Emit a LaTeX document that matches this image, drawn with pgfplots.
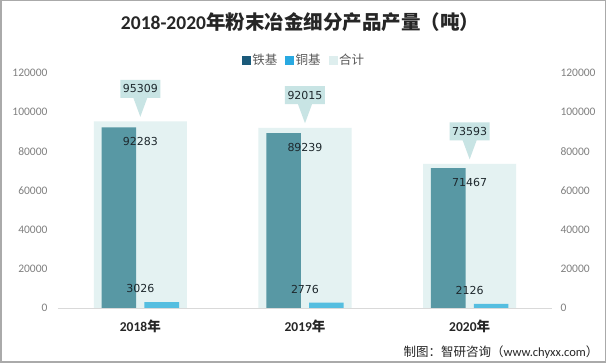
\documentclass[border=0pt]{standalone}
\usepackage{fontspec}
\setmainfont{Carlito}
\newfontfamily\cjk{Noto Sans CJK SC}
\newfontfamily\dv{DejaVu Sans}
\usepackage{pgfplots}
\pgfplotsset{compat=1.18}
\usetikzlibrary{shapes.callouts}
\definecolor{ironbar}{RGB}{88,152,164}
\definecolor{copperbar}{RGB}{85,190,224}
\definecolor{totfill}{RGB}{228,242,242}
\definecolor{callfill}{RGB}{200,228,228}
\definecolor{legiron}{RGB}{27,90,122}
\definecolor{legcopper}{RGB}{41,169,225}
\definecolor{legtot}{RGB}{222,238,238}
\definecolor{tickgray}{RGB}{128,128,128}
\definecolor{axisgray}{RGB}{217,217,217}
\definecolor{bordergray}{RGB}{170,170,170}
\definecolor{labcol}{RGB}{30,40,45}
\definecolor{titlecol}{RGB}{38,38,38}
\begin{document}
\begin{tikzpicture}[x=1pt,y=1pt]
\useasboundingbox (0,0) rectangle (606,363);
\fill[white] (0,0) rectangle (606,363);
\draw[line width=1.5pt, color=bordergray] (0.75,0.75) rectangle (605.25,362.25);
\node[font=\bfseries\fontsize{19.5}{20}\selectfont, text=titlecol] at (300,341) {2018-2020{\cjk\bfseries 年粉末冶金细分产品产量（吨）}};
\node[anchor=east, font=\fontsize{12.5}{13}\selectfont, text=titlecol] at (602,11) {{\cjk 制图：智研咨询（}www.chyxx.com{\cjk ）}};

\begin{axis}[
  at={(58pt,55pt)}, anchor=south west, scale only axis,
  width=494pt, height=235pt,
  xmin=-0.5, xmax=2.5, ymin=0, ymax=120000,
  xtick={0,1,2},
  xticklabels={{2018{\cjk\bfseries 年}},{2019{\cjk\bfseries 年}},{2020{\cjk\bfseries 年}}},
  ytick={0,20000,40000,60000,80000,100000,120000},
  axis x line*=bottom, axis y line*=left,
  y axis line style={draw=none},
  x axis line style={-, draw=axisgray, line width=0.8pt},
  tick style={draw=none}, major tick length=0pt,
  scaled y ticks=false,
  /pgf/number format/fixed,
  /pgf/number format/precision=0,
  /pgf/number format/1000 sep={},
  /pgf/number format/assume math mode=true,
  yticklabel style={font=\fontsize{11.5}{12}\selectfont, text=tickgray, xshift=-7pt},
  xticklabel style={font=\bfseries\fontsize{13.5}{14}\selectfont, text=titlecol, yshift=-8pt},
  clip=false,
  legend style={at={(0.498,1.055)}, anchor=center, draw=none, fill=none,
    legend columns=3, font=\cjk\fontsize{12.5}{13}\selectfont, text=black!65,
    /tikz/every even column/.append style={column sep=6pt}},
]
\addlegendimage{legend image code/.code={\fill[legiron] (0pt,-4pt) rectangle (8pt,4pt);}}
\addlegendimage{legend image code/.code={\fill[legcopper] (0pt,-4pt) rectangle (8pt,4pt);}}
\addlegendimage{legend image code/.code={\fill[legtot] (0pt,-4pt) rectangle (8pt,4pt);}}
\addplot[ybar, bar width=0.565, bar shift=0, fill=totfill, draw=none, forget plot,
  nodes near coords,
  nodes near coords style={rectangle callout, fill=callfill, callout relative pointer={(0pt,-19pt)},
    callout pointer width=14pt, minimum width=40pt, minimum height=18pt, inner sep=1pt,
    anchor=pointer, yshift=4pt, font=\dv\fontsize{11}{11}\selectfont, text=labcol}]
  coordinates {(0,95309) (1,92015) (2,73593)};
\addplot[ybar, bar width=0.21, bar shift=-0.13, fill=ironbar, draw=none, forget plot,
  nodes near coords,
  nodes near coords style={anchor=north, inner sep=2pt, yshift=-8pt, font=\dv\fontsize{11}{11}\selectfont, text=labcol}]
  coordinates {(0,92283) (1,89239) (2,71467)};
\addplot[ybar, bar width=0.21, bar shift=0.13, fill=copperbar, draw=none, forget plot,
  nodes near coords,
  nodes near coords style={anchor=south, inner sep=2pt, yshift=7pt, font=\dv\fontsize{11}{11}\selectfont, text=labcol}]
  coordinates {(0,3026) (1,2776) (2,2126)};
\legend{铁基,铜基,合计}
\end{axis}

\begin{axis}[
  at={(58pt,55pt)}, anchor=south west, scale only axis,
  width=494pt, height=235pt,
  xmin=-0.5, xmax=2.5, ymin=0, ymax=120000,
  axis x line=none, axis y line*=right,
  y axis line style={draw=none},
  ytick={0,20000,40000,60000,80000,100000,120000},
  tick style={draw=none}, major tick length=0pt,
  scaled y ticks=false,
  /pgf/number format/fixed,
  /pgf/number format/1000 sep={},
  /pgf/number format/assume math mode=true,
  yticklabel style={font=\fontsize{11.5}{12}\selectfont, text=tickgray, xshift=5pt},
]
\addplot[draw=none] coordinates {(0,0)};
\end{axis}
\end{tikzpicture}
\end{document}
